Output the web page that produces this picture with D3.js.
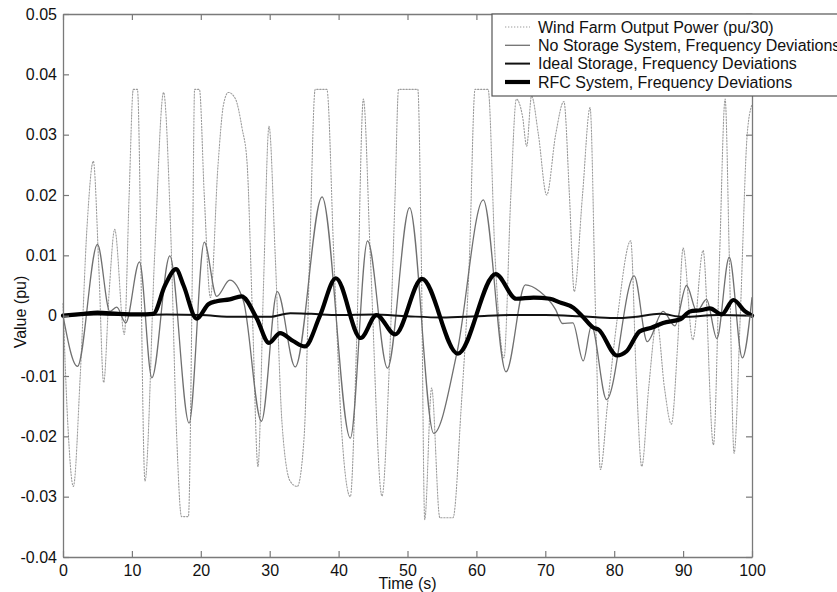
<!DOCTYPE html>
<html><head><meta charset="utf-8">
<script src="https://cdn.jsdelivr.net/npm/d3@7"></script>
<style>
body{margin:0;background:#fff}
svg{display:block}
text{font-family:"Liberation Sans",Arial,sans-serif;fill:#111}
</style>
</head><body>
<svg id="c" width="837" height="592"></svg>
<script>
// ---- data ----
const windT = [0,0.7,1.5,2.5,3.5,4.4,5.2,5.9,6.7,7.5,8.9,9.6,10.2,10.8,11.9,13.3,14.6,15.6,16.5,17.2,18.2,18.8,19.1,19.8,20.5,21.4,22.5,23.3,24.0,25.0,26.0,26.7,27.5,28.3,29.1,29.9,30.8,31.8,33.0,34.0,35.0,35.8,36.6,38.3,39.3,40.5,41.7,42.6,43.6,44.6,46.3,47.3,48.2,48.7,51.5,52.0,52.5,53.5,54.7,56.6,57.8,59.0,59.8,61.7,62.7,64.0,65.0,65.8,66.7,67.3,68.0,69.0,70.2,71.5,72.7,73.5,74.2,75.4,76.5,77.3,78.0,79.0,80.5,82.4,83.2,84.0,85.0,86.2,87.3,88.3,89.2,90.0,91.4,92.9,94.4,95.3,96.1,96.7,97.4,98.3,99.3,100];
const windV = [0.002,-0.018,-0.0283,-0.01,0.015,0.0256,0.008,-0.0111,0.004,0.0143,-0.0031,0.02,0.0375,0.0375,-0.0274,0.01,0.037,0.015,-0.02,-0.0333,-0.0333,0.01,0.0375,0.0375,0.02,0.003,0.025,0.035,0.037,0.036,0.031,0.0256,0.0,-0.025,0.005,0.0314,0.01,-0.018,-0.0275,-0.0283,-0.02,0.01,0.0375,0.0375,0.01,-0.02,-0.030,-0.005,0.0359,0.01,-0.0299,-0.01,0.02,0.0375,0.0375,0.01,-0.0338,-0.012,-0.0335,-0.0335,-0.015,0.01,0.0375,0.0375,0.01,-0.007,0.02,0.0359,0.033,0.0281,0.0364,0.03,0.02,0.03,0.0355,0.02,0.004,0.02,0.0345,0.0,-0.0255,-0.015,0.0,0.0124,-0.01,-0.025,-0.012,-0.001,-0.012,-0.018,-0.005,0.0112,-0.004,0.0108,-0.0214,0.01,0.0359,0.01,-0.0228,0.0,0.03,0.035];

const noStorT = [0,2.1,5.0,6.8,7.8,9.1,11.1,12.9,15.5,18.3,20.5,22.3,24.2,26.2,28.8,31.1,33.7,37.6,41.7,44.2,47.1,50.3,53.8,57.2,61.0,64.3,67.1,69.2,71.5,72.5,74.0,75.5,76.7,78.9,82.9,84.8,87.1,88.8,90.5,92.0,93.4,94.9,96.7,98.6,100];
const noStorV = [0,-0.0084,0.0118,0.0007,0.0014,-0.0012,0.0089,-0.0103,0.0099,-0.0178,0.0122,0.0032,0.0059,0.0024,-0.0175,0.004,-0.0085,0.0197,-0.0203,0.0124,-0.0087,0.0179,-0.0195,-0.006,0.0192,-0.0093,0.0051,0.004,0.001,-0.0013,-0.0012,-0.0075,-0.0017,-0.0139,0.0066,-0.0043,0.0007,-0.0017,0.005,0.0007,0.0027,-0.0038,0.0097,-0.007,0.003];

const idealT = [0,5,10,15,20,25,30,33,36,40,45,50,55,60,65,70,75,80,83,86.6,90,95,100];
const idealV = [0,0.0002,0.0001,0.0002,0.0001,-0.0002,-0.0002,0.0004,0.0003,0.0001,0.0002,-0.0001,-0.0003,-0.0001,0.0001,0.0001,-0.0001,-0.0004,-0.0002,0.0003,-0.0002,0.0001,0];

const rfcT = [0,3,5,8,11,13.1,14.8,16.4,17.5,19.4,21.1,22.3,24.2,25.9,28.1,29.9,31.5,33.4,35.1,37.3,39.6,43.2,45.5,48.2,52.1,57.3,62.8,65.8,68.3,70.7,72.1,74.1,75.3,77.0,77.7,80.4,81.8,83.7,85.4,87.1,89.6,91.0,92.5,93.9,95.6,97.3,99.0,100];
const rfcV = [0,0.0003,0.0005,0.0003,0.0002,0.0003,0.005,0.0077,0.005,-0.0005,0.0019,0.0024,0.0027,0.0032,-0.0004,-0.0045,-0.0029,-0.0042,-0.0051,0,0.0062,-0.0037,0.0001,-0.0031,0.0061,-0.0063,0.0069,0.0028,0.003,0.0028,0.0022,0.0013,0.0,-0.002,-0.0023,-0.0066,-0.0059,-0.0026,-0.002,-0.0012,-0.0006,0.0007,0.0009,0.0012,0.0002,0.0026,0.0007,0];

const xTicks = [0,10,20,30,40,50,60,70,80,90,100];
const yTicks = [0.05,0.04,0.03,0.02,0.01,0,-0.01,-0.02,-0.03,-0.04];
const yTickLabels = ["0.05","0.04","0.03","0.02","0.01","0","-0.01","-0.02","-0.03","-0.04"];
const legendLabels = ["Wind Farm Output Power (pu/30)","No Storage System, Frequency Deviations","Ideal Storage, Frequency Deviations","RFC System, Frequency Deviations"];
const xLabel = "Time (s)";
const yLabel = "Value (pu)";

// ---- chart ----
const svg = d3.select("#c");
const L = 63, R = 752, T = 14, B = 557;
const x = d3.scaleLinear().domain([0,100]).range([L,R]);
const y = d3.scaleLinear().domain([-0.04,0.05]).range([B,T]);
const axisColor = "#7a7a7a";

const series = [
  {t: windT, v: windV, stroke:"#9c9c9c", w:1.1, dash:"1.3,1.7"},
  {t: noStorT, v: noStorV, stroke:"#707070", w:1.3, dash:null},
  {t: idealT, v: idealV, stroke:"#111", w:2, dash:null},
  {t: rfcT, v: rfcV, stroke:"#000", w:4.2, dash:null}
];

const line = d3.line().x(d=>x(d[0])).y(d=>y(d[1])).curve(d3.curveMonotoneX);
const plot = svg.append("g");
series.forEach(s=>{
  const pts = s.t.map((t,i)=>[t,s.v[i]]);
  plot.append("path").datum(pts).attr("d",line)
    .attr("fill","none").attr("stroke",s.stroke).attr("stroke-width",s.w)
    .attr("stroke-linejoin","round").attr("stroke-linecap","round")
    .attr("stroke-dasharray",s.dash);
});

function styleAxis(g){
  g.selectAll("path.domain").attr("stroke",axisColor).attr("stroke-width",1.3);
  g.selectAll(".tick line").attr("stroke",axisColor).attr("stroke-width",1.2);
  g.selectAll("text").attr("font-size",16).attr("fill","#111")
    .attr("font-family",'"Liberation Sans",Arial,sans-serif');
}
svg.append("g").attr("transform",`translate(0,${B})`)
  .call(d3.axisBottom(x).tickValues(xTicks).tickSizeInner(-6).tickSizeOuter(0).tickPadding(8).tickFormat(d3.format("d")))
  .call(styleAxis);
svg.append("g").attr("transform",`translate(0,${T})`)
  .call(d3.axisTop(x).tickValues(xTicks).tickSizeInner(-6).tickSizeOuter(0).tickFormat(""))
  .call(styleAxis);
svg.append("g").attr("transform",`translate(${L},0)`)
  .call(d3.axisLeft(y).tickValues(yTicks).tickSizeInner(-6).tickSizeOuter(0).tickPadding(6).tickFormat((d,i)=>yTickLabels[i]))
  .call(styleAxis);
svg.append("g").attr("transform",`translate(${R},0)`)
  .call(d3.axisRight(y).tickValues(yTicks).tickSizeInner(-6).tickSizeOuter(0).tickFormat(""))
  .call(styleAxis);

svg.append("text").attr("x",(L+R)/2).attr("y",589).attr("text-anchor","middle")
  .attr("font-size",16).text(xLabel);
svg.append("text").attr("transform","translate(26,312) rotate(-90)").attr("text-anchor","middle")
  .attr("font-size",16).text(yLabel);

// legend
const lg = svg.append("g");
lg.append("rect").attr("x",492).attr("y",14).attr("width",380).attr("height",82)
  .attr("fill","#fff").attr("stroke","#555").attr("stroke-width",1.2);
const rowY = [27,45.3,63.6,82];
series.forEach((s,i)=>{
  lg.append("line").attr("x1",505).attr("x2",530).attr("y1",rowY[i]).attr("y2",rowY[i])
    .attr("stroke",s.stroke).attr("stroke-width",s.w).attr("stroke-dasharray",s.dash);
  lg.append("text").attr("x",538).attr("y",rowY[i]).attr("dy","0.35em")
    .attr("font-size",16).text(legendLabels[i]);
});
</script>
</body></html>
